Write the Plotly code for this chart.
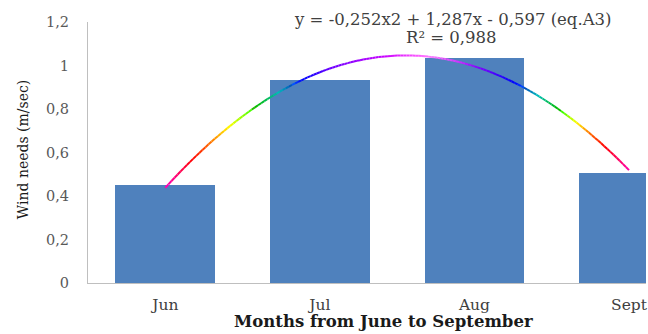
import numpy as np
import plotly.graph_objects as go
import colorsys

# ---- data ----
months = ["Jun", "Jul", "Aug", "Sept"]
wind_needs = [0.452, 0.933, 1.033, 0.507]
trend_coef = [-0.252, 1.287, -0.597]   # a, b, c  (x = 1..4)
y_tick_vals = [0, 0.2, 0.4, 0.6, 0.8, 1.0, 1.2]
y_tick_text = ["0", "0,2", "0,4", "0,6", "0,8", "1", "1,2"]
eq_text = "y = -0,252x2 + 1,287x - 0,597 (eq.A3)"
r2_text = "R² = 0,988"

FONT = "DejaVu Serif"
BAR = "#4F81BD"

fig = go.Figure()
xpos = list(range(len(months)))
fig.add_trace(go.Bar(x=xpos, y=wind_needs, width=0.645, marker=dict(color=BAR, line=dict(width=0)),
                     showlegend=False, hoverinfo="skip"))

# trendline with rainbow gradient
a, b, c = trend_coef
n = 150
xs = np.linspace(1, len(months), n + 1)
ys = a * xs**2 + b * xs + c
px = xs - 1
stops_p = [0, 0.155, 0.284, 0.4, 0.574, 0.735, 0.865, 1.06, 1.38, 1.67, 1.89, 2.08, 2.28, 2.41, 2.56, 2.67, 2.75, 2.86, 3.0]
stops_h = [315, 355, 385, 415, 470, 540, 595, 625, 645, 660, 645, 625, 595, 540, 470, 415, 385, 355, 320]
for i in range(n):
    pm = 0.5 * (px[i] + px[i + 1])
    h = (np.interp(pm, stops_p, stops_h) % 360) / 360.0
    light = 0.5 + 0.25 * max(0.0, 1 - abs(pm - 1.72) / 0.3)
    if 0.3 < h < 0.6:
        light -= 0.13
    r, g, bb = colorsys.hls_to_rgb(h, light, 1.0)
    col = "rgb(%d,%d,%d)" % (r * 255, g * 255, bb * 255)
    fig.add_trace(go.Scatter(x=[px[i], px[i + 1]], y=[ys[i], ys[i + 1]], mode="lines",
                             line=dict(color=col, width=2), showlegend=False, hoverinfo="skip"))

fig.update_layout(
    width=648, height=334,
    margin=dict(l=88, r=0, t=22, b=51),
    paper_bgcolor="white", plot_bgcolor="white",
    font=dict(family=FONT, color="#404040"),
    bargap=0,
)
fig.update_xaxes(range=[-0.5, 3.11], tickvals=xpos, ticktext=months, showgrid=False, zeroline=False,
                 showline=True, linecolor="#BFBFBF", linewidth=1, ticks="",
                 tickfont=dict(family=FONT, size=15.5, color="#404040"), ticklabelstandoff=7,
                 ticklabeloverflow="allow")
fig.update_yaxes(range=[0, 1.2], tickvals=y_tick_vals, ticktext=y_tick_text, showgrid=False, zeroline=False,
                 showline=True, linecolor="#BFBFBF", linewidth=1, ticks="",
                 tickfont=dict(family=FONT, size=14.5, color="#595959"), ticklabelstandoff=15)

fig.add_annotation(text=eq_text, xref="paper", yref="paper", x=0.655, y=1.01, showarrow=False,
                   font=dict(family=FONT, size=16.5, color="#404040"), yanchor="middle")
fig.add_annotation(text=r2_text, xref="paper", yref="paper", x=0.652, y=0.942, showarrow=False,
                   font=dict(family=FONT, size=16.5, color="#404040"), yanchor="middle")
fig.add_annotation(text="Wind needs (m/sec)", xref="paper", yref="paper", x=-0.116, y=0.51,
                   textangle=-90, showarrow=False, font=dict(family=FONT, size=14, color="#1a1a1a"),
                   xanchor="center", yanchor="middle")
fig.add_annotation(text="<b>Months from June to September</b>", xref="paper", yref="paper", x=0.529, y=-0.148,
                   showarrow=False, font=dict(family=FONT, size=16.5, color="#1a1a1a"),
                   xanchor="center", yanchor="middle")

fig.write_html("out.html")
